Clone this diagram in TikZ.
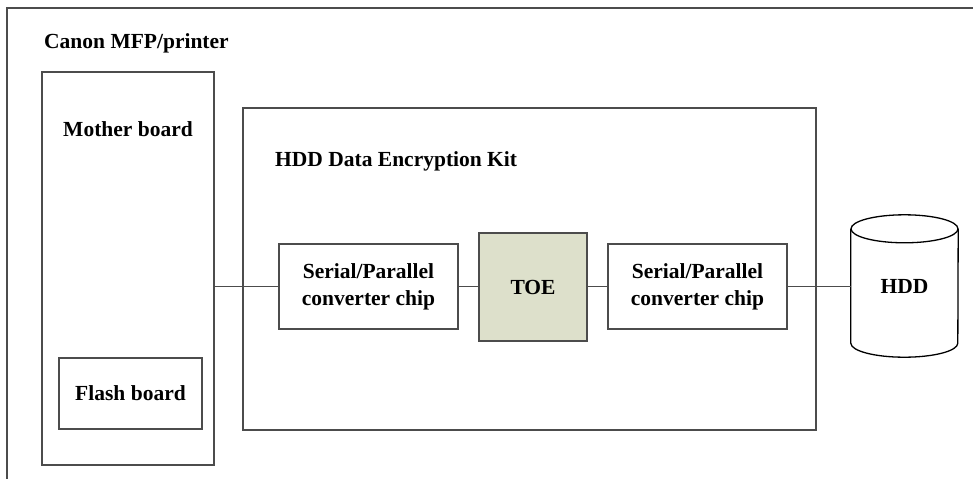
\documentclass[tikz,border=0pt]{standalone}
\usepackage{fontspec}
\setmainfont{Liberation Serif}
\begin{document}
\begin{tikzpicture}[x=1pt,y=-1pt,
  frame/.style={draw=black!70, line width=1.2pt, inner sep=0pt},
  chip/.style={frame, minimum width=179pt, minimum height=85pt, align=center, font=\fontsize{21.5}{27}\selectfont\bfseries},
  lbl/.style={font=\fontsize{21.5}{26}\selectfont\bfseries, inner sep=0pt},
  wire/.style={draw=black!70, line width=1.2pt}]
\useasboundingbox (0,0) rectangle (973,479);
% outer frame (extends beyond the picture)
\draw[draw=black!70, line width=1.2pt] (973,8) -- (7,8) -- (7,479);
\node[lbl, anchor=west] (canon) at (44,43) {Canon MFP/printer};
% mother board
\node[frame, minimum width=172pt, minimum height=393pt] (mb) at (128,268.5) {};
\node[lbl] (mbl) at (128,129) {Mother board};
\node[frame, minimum width=143pt, minimum height=71pt, lbl] (flash) at (130.5,393.5) {Flash board};
% kit
\node[frame, minimum width=573pt, minimum height=322pt] (kit) at (529.5,269) {};
\node[lbl, anchor=west] (kitl) at (275,161) {HDD Data Encryption Kit};
\node[chip] (sp1) at (368.5,286.5) {Serial/Parallel\\converter chip};
\node[frame, fill={rgb,255:red,221;green,224;blue,203}, minimum width=108pt, minimum height=108pt, lbl] (toe) at (533,287) {TOE};
\node[chip] (sp2) at (697.5,286.5) {Serial/Parallel\\converter chip};
% HDD cylinder
\node[minimum width=107pt, minimum height=114pt, inner sep=0pt, lbl] (hdd) at (904.5,286) {HDD};
\draw[black, line width=1.3pt] (hdd.north west) -- (hdd.south west)
  arc[start angle=180, end angle=360, x radius=53.5pt, y radius=14pt] -- (hdd.north east);
\draw[black, line width=1.3pt] (hdd.north) ellipse[x radius=53.5pt, y radius=14pt];
% wires
\draw[wire] (mb.east |- sp1.west) -- (sp1.west);
\draw[wire] (sp1.east) -- (sp1.east -| toe.west);
\draw[wire] (sp2.west -| toe.east) -- (sp2.west);
\draw[wire] (sp2.east) -- (sp2.east -| hdd.west);
\end{tikzpicture}
\end{document}
